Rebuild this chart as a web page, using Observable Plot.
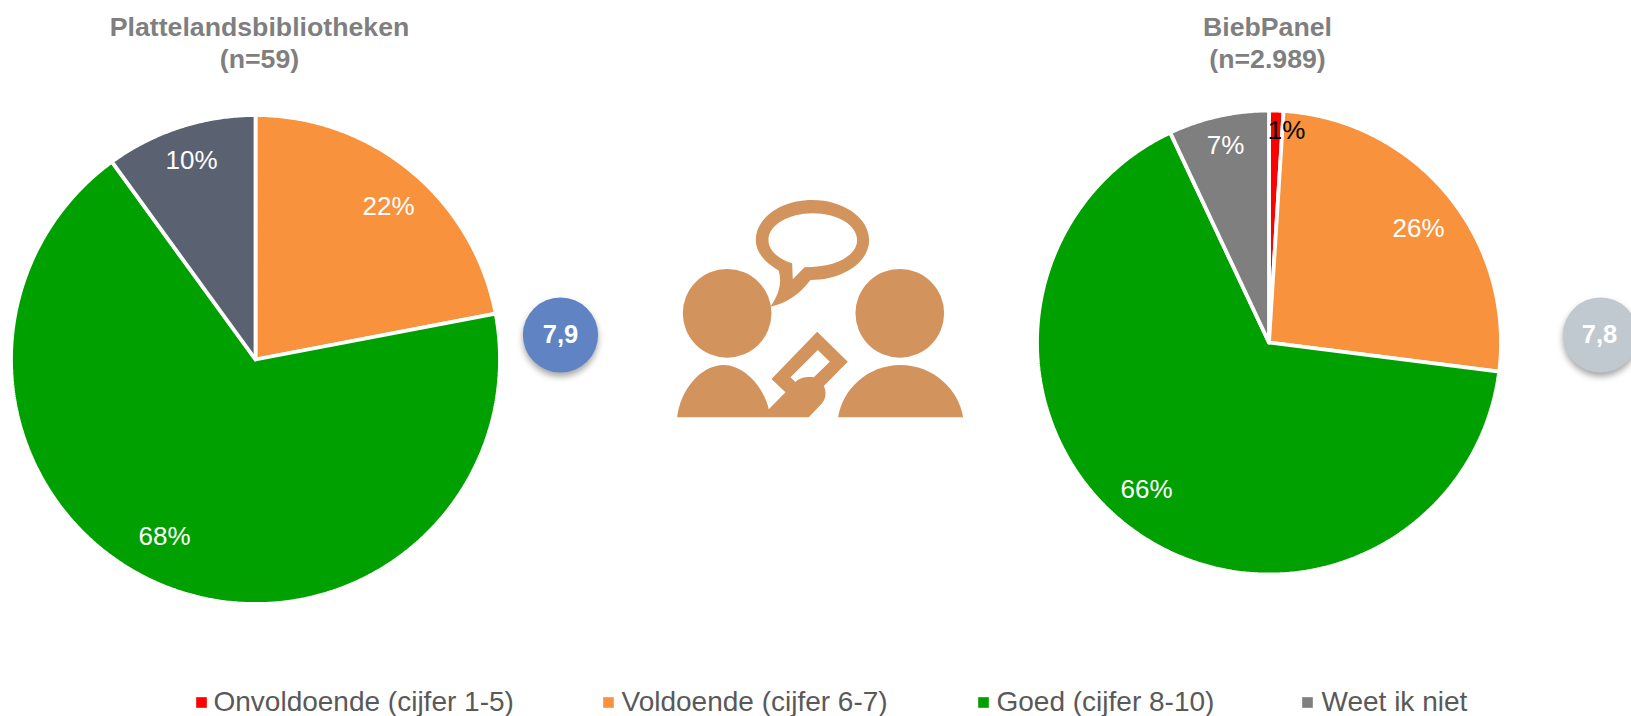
<!DOCTYPE html>
<html>
<head>
<meta charset="utf-8">
<style>
html,body{margin:0;padding:0;background:#fff;overflow:hidden}
svg{display:block}
</style>
<script src="https://cdn.jsdelivr.net/npm/d3@7"></script>
<script src="https://cdn.jsdelivr.net/npm/@observablehq/plot@0.6"></script>
</head>
<body>
<div id="chart"></div>
<script>
// ---- data ----
const categories = ["Onvoldoende (cijfer 1-5)", "Voldoende (cijfer 6-7)", "Goed (cijfer 8-10)", "Weet ik niet"];
const plattelandValues = [0, 22, 68, 10];
const biebPanelValues = [1, 26, 66, 7];
const panelTitles = ["Plattelandsbibliotheken\n(n=59)", "BiebPanel\n(n=2.989)"];
const scores = ["7,9", "7,8"];

// ---- styles and layout, kept apart from the values ----
const W = 1631, H = 716, FONT = "Liberation Sans, Arial, sans-serif";
const categoryColors = ["#ff0000", "#f8923c", "#00a000", "#7f7f7f"];
const plattelandColors = ["#ff0000", "#f8923c", "#00a000", "#5a6170"];
const pies = [
  {cx: 255, cy: 359, r: 244.5, values: plattelandValues, colors: plattelandColors},
  {cx: 1268.5, cy: 342, r: 232, values: biebPanelValues, colors: categoryColors}
];
const titleAnchors = [[259, 41], [1267, 41]];
const scoreAnchors = [[560, 334.5], [1600, 334.5]];
const scoreTextAnchors = [[560, 334.5], [1599, 334.5]];
const scoreColors = ["#6083c4", "#c1c9d0"];
const labelAnchors = [
  [[388, 206], [164, 536], [191, 160]],
  [[1286, 130], [1418, 228], [1146, 489], [1225, 145]]
];
const legendSwatchX = [201, 608, 983, 1307];
const legendTextX = [213, 621, 996, 1321];
const legendY = 702;

// ---- derived tables ----
const slicePoints = [];
const labels = [];
pies.forEach((pie, p) => {
  const total = d3.sum(pie.values);
  let cum = 0, n = 0;
  pie.values.forEach((v, i) => {
    if (v === 0) return;
    const a0 = cum / total * 2 * Math.PI;
    cum += v;
    const a1 = cum / total * 2 * Math.PI;
    const z = p + "-" + i;
    const common = {z, fill: pie.colors[i]};
    slicePoints.push({...common, x: pie.cx, y: pie.cy});
    const steps = Math.max(2, Math.ceil((a1 - a0) / 0.008));
    d3.range(steps + 1).forEach(k => {
      const a = a0 + (a1 - a0) * k / steps;
      slicePoints.push({...common, x: pie.cx + pie.r * Math.sin(a), y: pie.cy - pie.r * Math.cos(a)});
    });
    slicePoints.push({...common, x: pie.cx, y: pie.cy});
    const [lx, ly] = labelAnchors[p][n++];
    labels.push({x: lx, y: ly, text: v + "%", fill: pie.colors[i] === "#ff0000" ? "#000" : "#fff"});
  });
});
const legendRows = categories.map((c, i) => ({c, sx: legendSwatchX[i], tx: legendTextX[i], fill: categoryColors[i]}));

// Pictogram between the pies (decoration, not data)
const iconHeads = [[740, 400], [1258, 400]];
const iconShapes = [
  "M895 272C850 245 826 215 826 180C826 115 900 60 995 60C1090 60 1166 115 1166 180C1166 245 1090 300 990 300C960 340 920 370 870 380C895 345 905 310 895 272ZM935 250C890 235 864 210 864 180C864 135 925 100 997 100C1070 100 1130 135 1130 180C1130 225 1070 262 972 262L937 298Z",
  "M590 712C600 630 660 555 730 555C790 555 850 620 865 688L915 637L873 597L1010 455L1102 545L1030 618C1040 640 1035 660 1020 675L985 712ZM930 592L1012 510L1048 545L1000 592C980 590 960 592 945 606Z",
  "M1073 712C1085 630 1160 555 1260 555C1360 555 1435 630 1448 712Z"
];
function iconMark() {
  const g = d3.create("svg:g").attr("transform", "translate(480.5,180) scale(0.3333)").attr("fill", "#d3935c");
  iconHeads.forEach(([cx, cy]) => g.append("circle").attr("cx", cx).attr("cy", cy).attr("r", 133));
  iconShapes.forEach(d => g.append("path").attr("d", d).attr("fill-rule", "evenodd"));
  return g.node();
}

const chart = Plot.plot({
  width: W, height: H,
  margin: 0,
  style: {background: "#fff", fontFamily: FONT},
  x: {domain: [0, W], range: [0, W], axis: null},
  y: {domain: [0, H], range: [0, H], axis: null},
  marks: [
    Plot.line(slicePoints, {x: "x", y: "y", z: "z", fill: d => d.fill, stroke: "#fff", strokeWidth: 3.8, strokeLinejoin: "miter", curve: "linear"}),
    Plot.text(labels, {x: "x", y: "y", text: "text", fill: d => d.fill, fontSize: 26, fontFamily: FONT}),
    Plot.text(panelTitles, {x: (d, i) => titleAnchors[i][0], y: (d, i) => titleAnchors[i][1], text: d => d, fill: "#7f7f7f", fontWeight: "bold", fontSize: 26.7, lineHeight: 1.2, fontFamily: FONT}),
    Plot.dot(scores, {x: (d, i) => scoreAnchors[i][0], y: (d, i) => scoreAnchors[i][1], r: 37.6, fill: (d, i) => scoreColors[i], imageFilter: "drop-shadow(0 4px 3px rgba(0,0,0,0.35))"}),
    Plot.text(scores, {x: (d, i) => scoreTextAnchors[i][0], y: (d, i) => scoreTextAnchors[i][1], text: d => d, fill: "#fff", fontWeight: "bold", fontSize: 25.5, fontFamily: FONT}),
    iconMark,
    Plot.dot(legendRows, {x: "sx", y: () => legendY, symbol: "square", r: 6, fill: d => d.fill}),
    Plot.text(legendRows, {x: "tx", y: () => legendY, text: "c", textAnchor: "start", fill: "#595959", fontSize: 28, fontFamily: FONT})
  ]
});
document.getElementById("chart").append(chart);
</script>
</body>
</html>
